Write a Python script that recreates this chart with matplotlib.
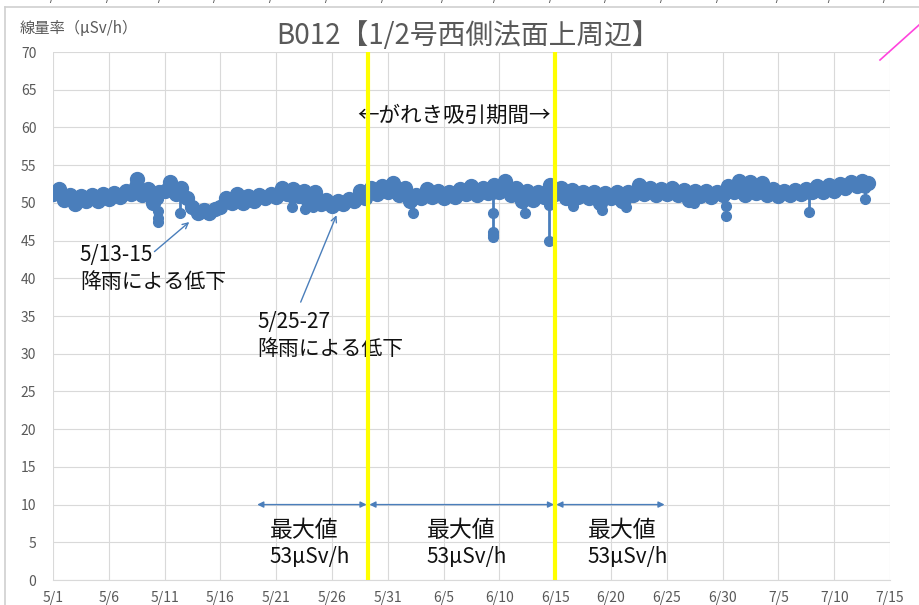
import numpy as np
import pandas as pd
import matplotlib
matplotlib.use("Agg")
import matplotlib.pyplot as plt
from matplotlib.lines import Line2D

plt.rcParams['font.family'] = ['Noto Sans CJK JP', 'DejaVu Sans']

start = pd.Timestamp("2016-05-01")

# dose rate, one reading every 12 hours from 5/1 0:00 (uSv/h)
rate_12h = [
    51.2, 51.8, 50.4, 51.0, 49.8, 50.9, 50.2, 51.0, 50.3, 51.2,
    50.5, 51.3, 50.8, 51.6, 51.2, 53.2, 51.0, 51.8, 50.0, 51.5,
    51.6, 52.8, 51.2, 52.0, 50.6, 49.4, 48.7, 49.1, 48.6, 49.2,
    49.4, 50.6, 50.0, 51.2, 50.0, 50.9, 50.3, 51.0, 50.6, 51.2,
    50.8, 52.0, 51.2, 51.8, 50.9, 51.6, 50.6, 51.4, 49.8, 50.4,
    49.6, 50.2, 49.9, 50.5, 50.2, 51.6, 50.6, 52.0, 51.2, 52.2,
    51.4, 52.6, 51.0, 52.0, 50.2, 51.0, 50.6, 51.8, 50.8, 51.6,
    50.7, 51.5, 50.8, 51.8, 51.2, 52.2, 51.0, 52.0, 51.3, 52.4,
    51.5, 52.9, 51.0, 52.0, 50.2, 51.6, 50.4, 51.5, 50.8, 52.4,
    51.2, 52.0, 50.6, 51.7, 50.8, 51.5, 50.6, 51.4, 50.0, 51.3,
    50.7, 51.5, 50.2, 51.4, 51.0, 52.4, 51.2, 52.0, 51.1, 51.8,
    51.2, 52.0, 51.0, 51.7, 50.4, 51.6, 50.9, 51.6, 50.8, 51.5,
    51.0, 52.2, 51.5, 52.9, 51.0, 52.8, 51.3, 52.6, 51.0, 51.8,
    50.9, 51.6, 51.0, 51.7, 51.2, 51.9, 51.4, 52.3, 51.5, 52.4,
    51.6, 52.5, 52.0, 52.7, 52.2, 52.9, 52.6,
]

# short drops: day after 5/1, readings from the band down to the lowest
dip_days = [9.4, 11.4, 21.4, 22.6, 23.3, 32.3, 39.4, 42.3, 44.4,
            46.6, 49.2, 51.3, 57.4, 60.3, 67.7, 72.8]
dip_vals = [[50.5, 48.9, 48.0, 47.4], [51.6, 48.6], [50.6, 49.4],
            [50.4, 49.2], [50.6, 49.4], [50.4, 48.6],
            [51.2, 48.6, 46.2, 45.8, 45.5], [50.4, 48.6],
            [52.4, 49.7, 45.0], [50.6, 49.6], [50.4, 49.0],
            [50.4, 49.4], [50.8, 50.0], [51.2, 49.6, 48.3],
            [51.2, 48.8], [52.0, 50.5]]

times = start + pd.to_timedelta(np.arange(len(rate_12h)) * 0.5, unit="D")

suction_start = start + pd.Timedelta(days=28.2)
suction_end = start + pd.Timedelta(days=45.0)

arrow_spans = [(18.3, 28.1), (28.35, 44.9), (45.1, 54.8)]
max_label_x = [19.4, 33.5, 47.9]

fig = plt.figure(figsize=(9.19, 6.05), dpi=100)
ax = fig.add_axes([53 / 919, 25 / 605, 837 / 919, 528 / 605])

blue = "#4a7ebb"
ax.plot(times, rate_12h, color=blue, lw=7, marker="o", ms=10,
        mec=blue, mfc=blue, zorder=3, solid_capstyle="round",
        solid_joinstyle="round")
for day, dv in zip(dip_days, dip_vals):
    t = [start + pd.Timedelta(days=day)] * len(dv)
    ax.plot(t, dv, color=blue, lw=2, marker="o", ms=7, zorder=3)

ax.axvline(suction_start, color="#ffff00", lw=3, zorder=4)
ax.axvline(suction_end, color="#ffff00", lw=3, zorder=4)

ax.set_xlim(start, start + pd.Timedelta(days=75))
ax.set_ylim(0, 70)
ax.set_yticks(range(0, 71, 5))
ticks = pd.date_range(start, periods=16, freq="5D")
ax.set_xticks(ticks)
ax.set_xticklabels([f"{t.month}/{t.day}" for t in ticks])
ax.grid(True, color="#d9d9d9", lw=0.8)
ax.set_axisbelow(True)
for s in ["left", "right", "top"]:
    ax.spines[s].set_visible(False)
ax.spines["bottom"].set_color("#d9d9d9")
ax.tick_params(length=0, colors="#595959", labelsize=10)
ax.tick_params(axis="x", pad=8)
ax.tick_params(axis="y", pad=12)

fig.text(468 / 919, 1 - 36 / 605, "B012【1/2号西側法面上周辺】", ha="center",
         va="center", fontsize=20, color="#595959")
fig.text(20 / 919, 1 - 28 / 605, "線量率（μSv/h）", ha="left", va="center",
         fontsize=11, color="#595959")

d = lambda x: start + pd.Timedelta(days=x)

ax.text(d(35.9), 61.5, "←がれき吸引期間→", ha="center", va="center",
        fontsize=15.5, color="#111111")

ax.annotate("", xy=(d(12.4), 47.7), xytext=(d(8.9), 43.3),
            arrowprops=dict(arrowstyle="->", color=blue, lw=1))
ax.text(d(2.4), 41.3, "5/13-15\n降雨による低下", ha="left", va="center",
        fontsize=15, linespacing=1.3, color="#111111")
ax.annotate("", xy=(d(25.5), 48.7), xytext=(d(22.1), 36.5),
            arrowprops=dict(arrowstyle="->", color=blue, lw=1))
ax.text(d(18.3), 32.4, "5/25-27\n降雨による低下", ha="left", va="center",
        fontsize=15, linespacing=1.3, color="#111111")

for a, b in arrow_spans:
    ax.annotate("", xy=(d(b), 10), xytext=(d(a), 10),
                arrowprops=dict(arrowstyle="<|-|>", color=blue, lw=1,
                                mutation_scale=9, shrinkA=0, shrinkB=0))
for x in max_label_x:
    ax.text(d(x), 6.6, "最大値", ha="left", va="center", fontsize=16.5,
            color="#111111")
    ax.text(d(x), 3.0, "53μSv/h", ha="left", va="center", fontsize=15,
            color="#111111")

# frame of the chart area and cut-off labels of the chart above
fig.add_artist(Line2D([5 / 919, 1], [1 - 7 / 605, 1 - 7 / 605],
                      color="#d0d0d0", lw=1.2, transform=fig.transFigure))
fig.add_artist(Line2D([5 / 919, 5 / 919], [0, 1 - 7 / 605],
                      color="#d0d0d0", lw=1.2, transform=fig.transFigure))
for i, t in enumerate(ticks):
    fig.text((53 + i * 55.8) / 919, 1 + 4 / 605, f"{t.month}/{t.day}",
             ha="center", va="center", fontsize=10, color="#595959")
fig.add_artist(Line2D([880 / 919, 1], [1 - 60 / 605, 1 - 25 / 605],
                      color="#ff44dd", lw=1.2, transform=fig.transFigure))

fig.savefig("out.png", dpi=100)
